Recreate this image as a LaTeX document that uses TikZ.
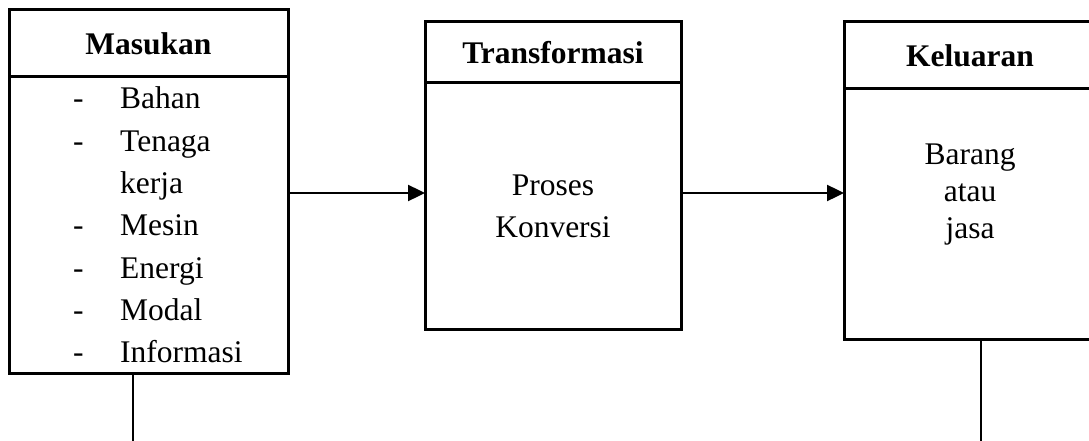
\documentclass[tikz,border=0pt]{standalone}
\usepackage{fontspec}
\setmainfont{Liberation Serif}
\usetikzlibrary{arrows.meta,positioning}

\begin{document}
\begin{tikzpicture}[x=1pt,y=-1pt,font=\fontsize{31.5}{42.3}\selectfont]

\tikzstyle{hd}=[draw,line width=3pt,inner sep=0pt,outer sep=0pt,font=\fontsize{31.5}{42.3}\selectfont\bfseries]
\tikzstyle{bd}=[draw,line width=3pt,inner sep=0pt,outer sep=0pt]
\tikzstyle{txt}=[inner sep=0pt,align=center]
\tikzstyle{arr}=[line width=2.4pt,-{Triangle[length=17pt,width=16pt]}]
\tikzstyle{stem}=[line width=2.2pt]

\useasboundingbox (0,0) rectangle (1089,441);

\node[hd,minimum width=279pt,minimum height=67pt] (mh) at (148.5,43.5) {Masukan};
\node[bd,minimum width=279pt,minimum height=296pt,below=0pt of mh] (mb) {};
\node[inner sep=0pt,align=left,anchor=west] (ml) at ([xshift=64pt]mb.west)
  {\makebox[47pt][l]{-}Bahan\\
   \makebox[47pt][l]{-}Tenaga\\
   \makebox[47pt]{}kerja\\
   \makebox[47pt][l]{-}Mesin\\
   \makebox[47pt][l]{-}Energi\\
   \makebox[47pt][l]{-}Modal\\
   \makebox[47pt][l]{-}Informasi};

\node[hd,minimum width=256pt,minimum height=61pt] (th) at (553,52.5) {Transformasi};
\node[bd,minimum width=256pt,minimum height=246pt,below=0pt of th] (tb) {};
\node[txt] (tt) at (tb.center) {Proses\\Konversi};

\node[hd,minimum width=252pt,minimum height=67pt] (kh) at (970,55.5) {Keluaran};
\node[bd,minimum width=252pt,minimum height=250pt,below=0pt of kh] (kb) {};
\node[txt,font=\fontsize{31.5}{37}\selectfont] (kt) at ([yshift=19pt]kb.center) {Barang\\atau\\jasa};

\node[shape=coordinate] (fl) at (0,193){};
\node[shape=coordinate] (ms) at (133,441){};
\node[shape=coordinate] (ks) at (981,441){};

\draw[arr] (mb.east |- fl) -- (tb.west |- fl);
\draw[arr] (tb.east |- fl) -- (kb.west |- fl);

\draw[stem] (ms |- mb.south) -- (ms);
\draw[stem] (ks |- kb.south) -- (ks);

\end{tikzpicture}
\end{document}
